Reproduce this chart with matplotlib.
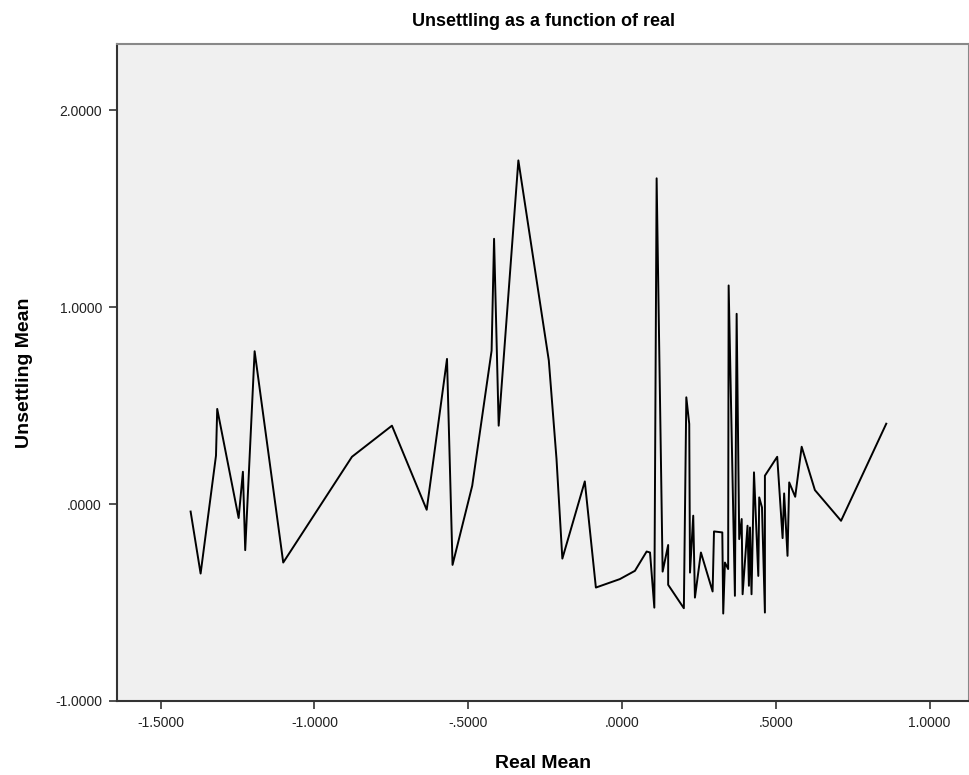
import matplotlib
matplotlib.use("Agg")
import matplotlib.pyplot as plt
from matplotlib.ticker import FuncFormatter

# mean of "real" (x) and mean of "unsettling" (y), in plotting order
real_mean = [-1.4025, -1.370, -1.320, -1.316, -1.2464, -1.2325, -1.225, -1.1944,
             -1.1014, -0.878, -0.748, -0.635, -0.569, -0.551, -0.487, -0.424,
             -0.416, -0.401, -0.337, -0.238, -0.213, -0.194, -0.121, -0.085,
             -0.007, 0.042, 0.080, 0.091, 0.105, 0.1125, 0.132, 0.150,
             0.150, 0.201, 0.209, 0.2185, 0.221, 0.2315, 0.237, 0.2565,
             0.2945, 0.299, 0.326, 0.329, 0.3345, 0.345, 0.3466, 0.367,
             0.3726, 0.381, 0.389, 0.392, 0.408, 0.4125, 0.416, 0.421,
             0.429, 0.443, 0.446, 0.455, 0.4645, 0.4645, 0.5045, 0.522,
             0.527, 0.538, 0.5435, 0.563, 0.584, 0.627, 0.712, 0.859]
unsettling_mean = [-0.038, -0.353, 0.246, 0.483, -0.071, 0.164, -0.234, 0.776,
                   -0.297, 0.240, 0.398, -0.029, 0.737, -0.309, 0.093, 0.779,
                   1.347, 0.398, 1.745, 0.729, 0.229, -0.277, 0.115, -0.424,
                   -0.381, -0.339, -0.241, -0.246, -0.526, 1.654, -0.343, -0.208,
                   -0.410, -0.529, 0.542, 0.407, -0.348, -0.059, -0.475, -0.246,
                   -0.444, -0.139, -0.144, -0.556, -0.297, -0.330, 1.110, -0.466,
                   0.966, -0.178, -0.076, -0.458, -0.110, -0.415, -0.119, -0.458,
                   0.161, -0.365, 0.034, -0.017, -0.551, 0.144, 0.240, -0.173,
                   0.054, -0.263, 0.110, 0.037, 0.291, 0.071, -0.085, 0.408]

x_ticks = [-1.5, -1.0, -0.5, 0.0, 0.5, 1.0]
y_ticks = [-1.0, 0.0, 1.0, 2.0]


def spss_fmt(v, pos=None):
    s = "%.4f" % v
    if s.startswith("0."):
        s = s[1:]
    elif s.startswith("-0."):
        s = "-" + s[2:]
    return s


plt.rcParams['font.family'] = ['Liberation Sans', 'DejaVu Sans']

fig = plt.figure(figsize=(9.69, 7.75), dpi=100)
ax = fig.add_axes([0.121, 0.0955, 0.879, 0.8477])
ax.set_facecolor('#f0f0f0')

ax.plot(real_mean, unsettling_mean, color='black', lw=1.4)

ax.set_xlim(-1.641, 1.128)
ax.set_ylim(-1.0, 2.336)
ax.set_xticks(x_ticks)
ax.set_yticks(y_ticks)
ax.xaxis.set_major_formatter(FuncFormatter(spss_fmt))
ax.yaxis.set_major_formatter(FuncFormatter(spss_fmt))
ax.tick_params(direction='out', length=6, width=1.2, color='#333333',
               labelsize=10, labelcolor='#222222', pad=5)

for side in ['left', 'bottom']:
    ax.spines[side].set_color('#333333')
    ax.spines[side].set_linewidth(1.5)
for side in ['top', 'right']:
    ax.spines[side].set_color('#888888')
    ax.spines[side].set_linewidth(1.5)

ax.set_title("Unsettling as a function of real", fontsize=13, fontweight='bold', pad=13)
ax.set_xlabel("Real Mean", fontsize=14, fontweight='bold', labelpad=18)
ax.set_ylabel("Unsettling Mean", fontsize=14, fontweight='bold', labelpad=16)

fig.savefig("out.png", dpi=100, facecolor='white')
